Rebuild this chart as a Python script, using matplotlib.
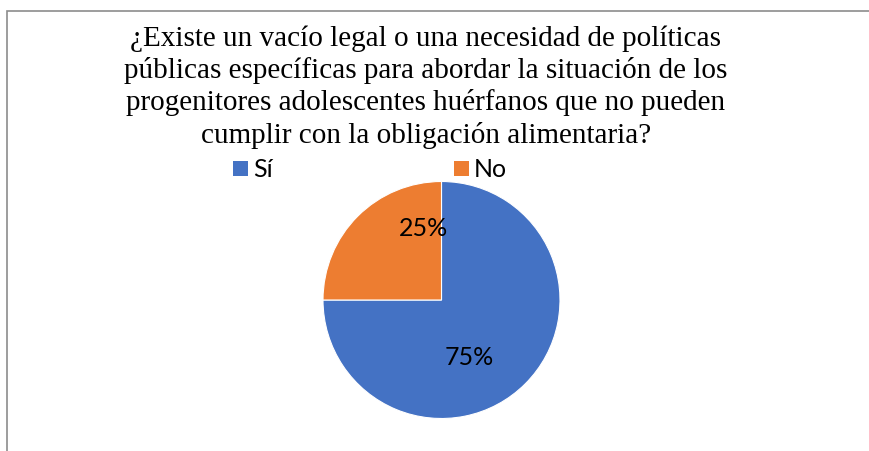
import matplotlib
matplotlib.use('Agg')
import matplotlib.pyplot as plt
from matplotlib.patches import Rectangle

# survey answers
labels = ['Sí', 'No']
values = [75, 25]
colors = ['#4472C4', '#ED7D31']
title = ('¿Existe un vacío legal o una necesidad de políticas\n'
         'públicas específicas para abordar la situación de los\n'
         'progenitores adolescentes huérfanos que no pueden\n'
         'cumplir con la obligación alimentaria?')

W, H = 869, 452
fig = plt.figure(figsize=(W / 100, H / 100), dpi=100)
fig.patch.set_facecolor('white')

# chart area frame (cut by the image on the right and bottom)
fig.patches.append(Rectangle((7.5 / W, -0.1), 1.2, (H - 12) / H + 0.1,
                             transform=fig.transFigure, fill=False,
                             edgecolor='#8c8c8c', linewidth=1.2))

fig.text(426 / W, 1 - 25 / H, title, ha='center', va='top',
         family='Liberation Serif', fontsize=21, linespacing=1.26,
         color='#000000')

# pie
cx, cy, r = 441.5, 301, 118.5
ax = fig.add_axes([(cx - r) / W, (H - cy - r) / H, 2 * r / W, 2 * r / H])
wedges, texts, autotexts = ax.pie(values, colors=colors, startangle=90,
                                  counterclock=False, autopct='%1.0f%%',
                                  wedgeprops=dict(edgecolor='white', linewidth=0.8),
                                  textprops=dict(family='Lato', fontsize=18, color='black'))
ax.set_xlim(-1, 1)
ax.set_ylim(-1, 1)
ax.set_aspect('equal')
# label positions as in the original (data units)
label_pos = [(0.232, -0.481), (-0.156, 0.612)]
for t, p in zip(autotexts, label_pos):
    t.set_position(p)
    t.set_ha('center')
    t.set_va('center')

# legend drawn by hand to match the spacing
leg_x = [233, 454]
for lab, col, x in zip(labels, colors, leg_x):
    fig.patches.append(Rectangle((x / W, 1 - 177 / H), 15 / W, 15 / H,
                                 transform=fig.transFigure, facecolor=col,
                                 edgecolor='none'))
    fig.text((x + 20) / W, 1 - 169.5 / H, lab, ha='left', va='center',
             family='Lato', fontsize=18, color='black')

plt.savefig('out.png', dpi=100)
